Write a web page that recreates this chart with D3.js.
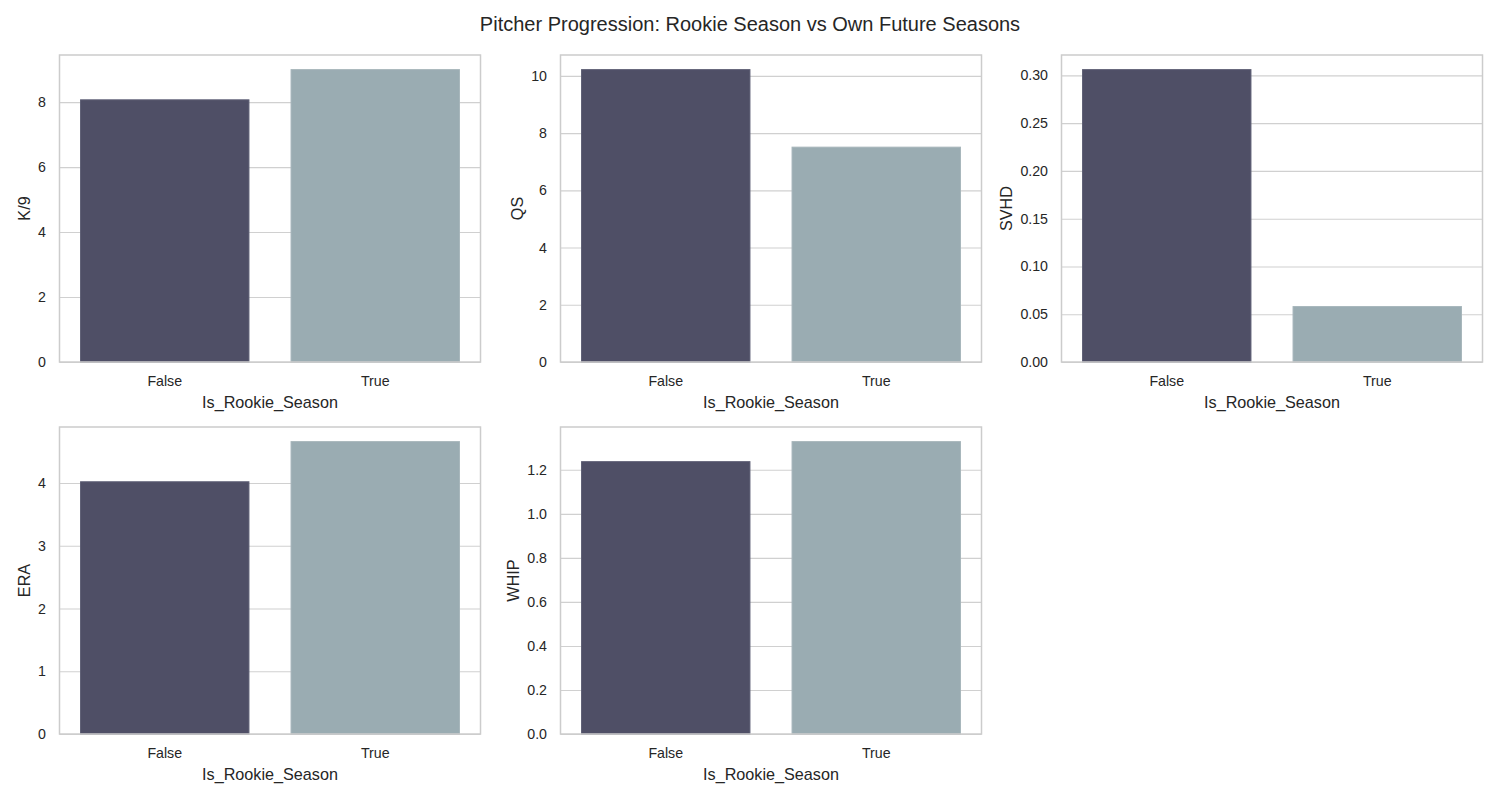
<!DOCTYPE html>
<html>
<head>
<meta charset="utf-8">
<script src="https://cdn.jsdelivr.net/npm/d3@7"></script>
<style>
  body { margin: 0; background: #fff; }
  text { font-family: "Liberation Sans", Arial, sans-serif; fill: #262626; }
</style>
</head>
<body>
<div id="chart"></div>
<script>
// categories on the x axis of every panel
const categories = ["False", "True"];

// one metric per panel, means
const metrics = ["K/9", "QS", "SVHD", "ERA", "WHIP"];
const falseValues = [8.07, 10.22, 0.306, 4.02, 1.237];
const trueValues = [9.0, 7.51, 0.058, 4.66, 1.328];

// tick steps used by each panel
const tickSteps = [2, 2, 0.05, 1, 0.2];
const tickDecimals = [0, 0, 2, 0, 1];

const colors = ["#4f4f66", "#9aacb2"];
const edgeColors = ["#5e5f75", "#a6b5ba"];

const width = 1500, height = 800;
const panelW = 421, panelH = 307;
const colX = [59.5, 560.5, 1061.5];
const rowY = [55, 427];

const tickFont = "14.2px", labelFont = "16.2px";

const svg = d3.select("#chart").append("svg")
  .attr("width", width)
  .attr("height", height);

svg.append("text")
  .attr("x", width / 2)
  .attr("y", 31)
  .attr("text-anchor", "middle")
  .style("font-size", "20px")
  .text("Pitcher Progression: Rookie Season vs Own Future Seasons");

metrics.forEach((m, i) => {
  const vals = [falseValues[i], trueValues[i]];
  const g = svg.append("g")
    .attr("transform", `translate(${colX[i % 3]}, ${rowY[Math.floor(i / 3)]})`);

  // matplotlib style: 5% headroom over the tallest bar
  const y = d3.scaleLinear()
    .domain([0, d3.max(vals) * 1.05])
    .range([panelH, 0]);

  const x = d3.scaleBand()
    .domain(categories)
    .range([0, panelW])
    .paddingInner(0.2)
    .paddingOuter(0.1);

  const step = tickSteps[i];
  const ticks = d3.range(0, y.domain()[1] + 1e-9, step);

  const yAxis = d3.axisLeft(y)
    .tickValues(ticks)
    .tickFormat(d => d.toFixed(tickDecimals[i]))
    .tickSize(-panelW)
    .tickPadding(13.5);

  const ya = g.append("g").call(yAxis);
  ya.select(".domain").remove();
  ya.selectAll(".tick line").attr("stroke", "#d0d0d0").attr("stroke-width", 1.1);
  ya.selectAll(".tick text").style("font-size", tickFont).attr("fill", "#262626");

  g.selectAll("rect.bar")
    .data(vals)
    .enter()
    .append("rect")
    .attr("class", "bar")
    .attr("x", (d, j) => x(categories[j]))
    .attr("width", x.bandwidth())
    .attr("y", d => y(d))
    .attr("height", d => panelH - y(d))
    .attr("fill", (d, j) => colors[j])
    .attr("stroke", (d, j) => edgeColors[j])
    .attr("stroke-width", 1);

  const xAxis = d3.axisBottom(x).tickSize(0).tickPadding(14);
  const xa = g.append("g")
    .attr("transform", `translate(0, ${panelH})`)
    .call(xAxis);
  xa.select(".domain").remove();
  xa.selectAll(".tick text").style("font-size", tickFont).attr("fill", "#262626");

  // frame
  g.append("rect")
    .attr("width", panelW)
    .attr("height", panelH)
    .attr("fill", "none")
    .attr("stroke", "#cccccc")
    .attr("stroke-width", 1.5);

  g.append("text")
    .attr("x", panelW / 2)
    .attr("y", panelH + 46)
    .attr("text-anchor", "middle")
    .style("font-size", labelFont)
    .text("Is_Rookie_Season");

  // y label sits left of the widest tick label
  let maxW = 0;
  ya.selectAll(".tick text").each(function () {
    maxW = Math.max(maxW, this.getComputedTextLength());
  });
  g.append("text")
    .attr("transform", `translate(${-(13.5 + maxW + 8)}, ${panelH / 2}) rotate(-90)`)
    .attr("text-anchor", "middle")
    .style("font-size", labelFont)
    .text(m);
});
</script>
</body>
</html>
